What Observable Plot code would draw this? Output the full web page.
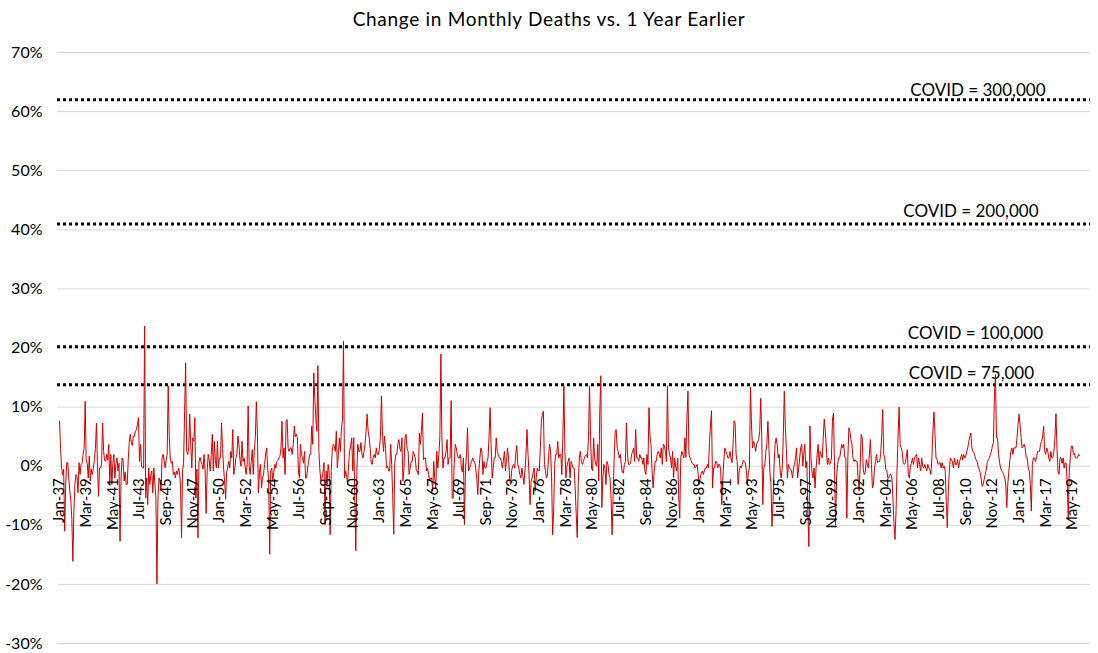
<!DOCTYPE html>
<html>
<head>
<meta charset="utf-8">
<script src="https://cdn.jsdelivr.net/npm/d3@7"></script>
<script src="https://cdn.jsdelivr.net/npm/@observablehq/plot@0.6"></script>
<style>
  html, body { margin: 0; padding: 0; background: #fff; }
  body { width: 1098px; height: 653px; overflow: hidden; font-family: Lato, "Open Sans", sans-serif; }
  #title { height: 38px; line-height: 38px; text-align: center; font-size: 19px; letter-spacing: 0.7px; color: #000; }
  #chart svg { display: block; }
</style>
</head>
<body>
<div id="title">Change in Monthly Deaths vs. 1 Year Earlier</div>
<div id="chart"></div>
<script>
// ---- data ----
const firstYear = 1937;

// Percent change in monthly deaths vs. same month one year earlier, Jan-1937 .. Dec-2019 (one row per year)
const monthlyChangePct = [
  7.6, 3, -0.3, -1.5, -0.5, -11, -3, 0.6, 0.6, -2, -4.2, -5.9,
  -9, -16.1, -7.6, -3.1, -1.4, -1.7, -4.5, 0.6, -1.4, 0.3, 0.5, 2,
  3, 11, 1.1, 0.5, -2, 1.7, -2.5, -0.5, -1.4, -0.3, 1.1, 3,
  7.3, 0, -5.1, -0.3, -0.3, 0.5, 7.3, 2.5, 1, 0.8, 2, 1,
  3.7, -3.1, 2, -3.1, 0.5, 2, -2, 0.5, 1.4, -0.8, 0.5, -12.7,
  -2, 1.4, 1, -2.5, -1, -3.1, -3.1, 1, 4, 5.4, 4, 3.5,
  5.1, 5, 5.9, 6.2, 7, 8.2, 0.8, 3.7, 0, -0.3, -0.3, 23.7,
  -5.4, -2, -6.5, -0.3, -3.1, -1.5, -0.8, -4.5, -0.3, -3, -5.4, -19.9,
  -5.4, -2, -2.5, -4.2, 1.4, 2, 1, -0.3, 1, 2, 13.6, 5,
  1.4, 0.5, 0.8, -1.4, -1, -2, -0.8, -1.4, -0.3, -1, -3.1, -12.1,
  -0.8, 0.5, 9.3, 17.5, 2.5, 2, 3.1, 8.8, 3.7, -0.3, 4.8, 4.2,
  8.2, -5.4, -0.5, -12.1, 0.8, 1.5, 0.8, 0.3, -0.5, 2, -0.8, -8,
  -0.8, 2, 1, -0.8, 2, 5.4, -0.8, 4.2, 1, -0.3, 4.2, -0.3,
  1.4, 1.4, 7.3, 3, -0.3, -2.5, -5.6, -1, -0.3, 0.8, -0.3, 2.5,
  1.4, 6.2, -1.4, -0.3, 1.4, 2, 5.1, 3.7, 1.1, 0, 4.2, 0.8,
  1.4, 0, -1.4, 0.3, 10.2, 0, -1.4, 0.8, 2.8, -1.4, 2.5, 5,
  10.9, 5.4, -4.5, -1, 0.3, -3.7, -2, -1.4, 0.3, 2, 3.1, -0.3,
  -2.5, -14.9, -0.8, -0.3, -2.5, -1, 0.3, -0.3, 0.8, 1, 1.4, 1.7,
  3, 7.6, 1.4, 3.1, -1.4, 7.6, 7.9, 3, 2.5, 3.1, 3.1, 2,
  3.7, 6.8, 5, 5.4, 4.8, -0.8, -2, 3.7, 2, 1.4, 0.5, 2.5,
  -2, -2, -0.3, 0.8, 2, 2, 6.8, 3.7, 15.8, 11.5, 8, 5.9,
  17, 2.5, -0.8, -2.5, -2, -1, 0.6, -9.9, -0.8, -3.1, 0.3, -1,
  -11.6, -0.8, 2.5, 3.7, 3.4, 2.5, 5.9, -0.3, 2, 4.8, 2.5, 6.5,
  8, 21.2, -2, -0.8, -1.5, -3.1, 0.3, 2.5, 3.5, 4.8, -0.8, 4.8,
  -5, -14.3, -0.8, 3.7, 2.5, 2.5, 4, 2, 1.4, 2.5, 3.7, 5.9,
  8.8, 6, 4.8, 3.1, 0.6, 0.3, 1.5, 2, 1.4, 3.1, 2, 2,
  2.8, 5, 11.9, 5.9, 2.5, 5.1, 3, -0.3, 0, -0.8, -0.8, 3.7,
  0.3, -5, -11.5, 0.5, 2, 2, 3.7, 4.5, 3, 2.5, 4.8, -2.5,
  -0.3, 4.8, 5.4, 3, 2.5, -1.4, -0.3, 0.8, 0.8, 2.5, 2, 1.4,
  -0.8, -0.8, -1.4, 5.6, 3.7, 6, 9, 1.1, 1.4, 1.4, -0.8, -0.3,
  -1.4, -2.5, -2, -2, -4.2, 0.8, -2, -3.7, 2.5, -0.3, 2, 4.8,
  19, 4.8, -0.3, 1.4, 1.4, 2.5, 4.5, 0.3, 1.4, 1.4, 11.1, -5.4,
  -5.4, 0.3, 3.7, 3.1, 2, 1.4, 1.4, 2, -0.3, -1, 1.4, -9.9,
  -0.3, 2, 6.5, -0.8, -0.3, 0.3, 0.8, 1.4, 0.8, 0.8, -0.3, -2,
  -4.8, -0.8, 1.4, 3.1, 2.5, -1.4, 0.8, -0.3, -0.3, 0.8, 1.4, 5,
  9.9, 3.7, -2, -0.3, 1.4, 1.4, 4.8, 2.5, 2, 1.4, 1.4, 0.8,
  -0.3, 1, 2.5, -0.8, 1, 3.1, 1.4, -2, -3.1, -0.8, 0, 0.3,
  -0.3, 2, 3.5, 0.3, -0.3, -1.4, -2, -0.3, -1.5, -3.1, -0.8, 2,
  6.2, 2, -1.4, -6.5, -2.5, -2, -1, -0.3, -4.2, -2, -0.3, -0.8,
  -0.8, 3.1, 7.5, 8.8, 9.3, 0.3, -0.8, -2, -1.5, 1.4, 3.7, 2.5,
  -2, -11.6, -7.6, 0.3, 2, 2, 4.2, 1.4, 2, 2, -1.4, 5,
  13.6, 2.5, -2, 0, 0.8, 1.4, -2, 0.8, 0.3, -0.3, -0.3, -3.7,
  -8, -12.1, -3.1, 1.4, 2.5, 0.8, 0.3, 0.8, 1.4, 1.8, 2, 1.4,
  4.8, 13.6, 5, -0.3, -0.8, 4.8, 1.4, 0.3, 0, 3.7, -2.5, 9,
  15.3, -7, -2, 0.3, -0.3, -3.1, 0.8, 0.3, -1.4, -2, -5.4, -11.6,
  -5, 1, 5.9, 6.2, 3, 2.5, 1.4, 2, 0.3, -1, -1.2, 0.3,
  0.8, 7.3, 2, 0.3, 0.3, 0.5, 2, 2.5, 3.1, 0.8, 6.2, 1.4,
  1.4, 0.8, 2, 1.4, 1.4, 0.3, 1.4, -0.8, -1.4, 2, 0.3, 9.9,
  5, 3.7, -0.8, -3.7, -1, 0.8, 0.8, 2, 2.5, 2, 1.4, 3.1,
  0.3, 3.7, 3.5, 2.5, 0.8, 13.6, 3.1, 2, 1.4, -0.3, 2.5, -2,
  1.4, 0, -0.8, 1.4, -5, -8.8, 1.4, 2.5, 2, 1.4, 4.8, 1.5,
  8, 12.7, 2, 1.4, 1, 0.5, 0.3, 0.3, -0.3, 0, 0.3, -1.4,
  -3.1, -2, -1.2, -0.8, -1.4, -0.8, -0.3, -0.3, 0.3, -0.3, 4, 6.8,
  9.4, -3.7, -0.3, -0.3, 0.8, 0.8, -0.3, 0.3, 0.3, -0.8, -6.5, -2,
  1, 3.1, 2.5, 2, 1.4, 1.4, 2.5, 1.4, 0.6, 3.7, 7.7, 7.3,
  2, 0.8, -3.1, -0.8, 0, -0.3, 0.3, 1, 0.8, 0.5, -0.8, -3.1,
  -1, -0.3, 13.4, 7, 3.1, 4.2, 3.7, 2.5, 3.7, 4.2, 4.5, 5.9,
  11.5, 5, -6.5, -0.3, 0.3, 2.5, 3.7, 7.6, 3, -1, -3.1, -10.2,
  -6, 0, 3.7, 4.8, 3.7, 1.4, 2, -1, -2, -0.3, 5, 12.7,
  6.8, 3, -2, 0.3, -0.3, -0.5, -0.8, -2, -0.3, 0.3, 1.5, 3.1,
  -2, -0.5, 1.4, 3.1, 3.7, 0, 2, 3.7, -0.3, 0.8, -8, -13.6,
  6.8, 1.4, -1, -2, -0.3, -3.7, -0.3, 2, 3.7, 0.3, 2.5, 2,
  1.4, 4.8, 8, 6, 3.1, 0.3, 1.4, 0.3, 0.5, 1.4, 8, 9,
  0, -9.9, -2, 0.3, 1.4, 1.4, 2.5, 3.7, 3.1, 3.7, 1.5, 1.4,
  -8.8, 1.4, 6.5, 5.9, 4.5, 3.7, 1.4, 0.8, 1.1, 0.8, 0.8, -2,
  -4.2, 0, 5.4, 4.8, -0.5, -1.4, -1, 1.1, 0.3, -0.3, 2, 4.5,
  0.3, -3.7, -3, -0.3, 0.8, 2, 0.6, 0.8, 0.8, 2, 5, 9.6,
  2, 1.4, -0.5, -0.8, -2, -2, -1.4, -1.4, -2, -5.4, -9.9, -12.4,
  -7.6, -0.3, 5, 10, 3.7, 3.1, 2.5, 0.5, 0.3, 0.6, 1.5, 2.8,
  -1.4, -2, 0, 0.5, 1.4, 0.3, 1.4, 1.7, 2, -0.3, 1.4, 0.3,
  -0.8, 1.4, 0, -0.3, 0.3, -0.3, -0.8, 0.3, -0.3, -0.5, -1.4, 1.5,
  6, 9.2, 5.4, 1.4, 1.1, 0.3, 0.5, 0.6, -0.3, 0.6, -0.3, 0,
  -0.8, -6, -10.4, -4.2, -0.8, 1.4, 1.1, 0.8, -0.3, 1.4, 0.3, 0.3,
  1.1, -0.3, 0.8, 1.4, 2, 1.1, 2, 1.4, 1.7, 2.5, 3.1, 4.2,
  5, 5.6, 3.1, 2.5, 2.2, 1.7, 1.1, 0.8, 0, -0.5, -1, -2,
  -3.4, -3.1, -2.2, -1.4, -0.6, 0.6, 1.1, 1.4, 2, 2.5, 3.4, 4,
  12, 15.5, 4.8, 4.8, 2, 0.6, -0.3, -0.8, -1, -1.4, -2, -3,
  -7, -3, -1, 1, 2.5, 3.1, 2, 3.1, 3.1, 3.1, 4.8, 7,
  8.8, 7, 4.8, 3.1, 3.4, 3.7, 3.1, 1.4, 1.4, -0.3, -0.8, -3.1,
  -7.6, 0.3, 1.4, 1.4, 0.8, 1.4, 2.5, 2.5, 2.5, 3.7, 4.2, 5,
  6.8, 2.5, 2, 3.1, 2.5, 1.4, 0.8, 2.5, 1.4, 1.4, 2.5, 4.8,
  8.9, 3, -0.8, -1.4, 1.4, 1.4, 0.5, 1.4, -0.3, 0.6, 0.5, -3,
  -8.8, -0.8, 1.4, 3.4, 3.4, 2, 2.2, 1.4, 1.4, 1.4, 2, 1.8
];

const monthAbbr = ["Jan","Feb","Mar","Apr","May","Jun","Jul","Aug","Sep","Oct","Nov","Dec"];

const tickLabels = [
  "Jan-37","Mar-39","May-41","Jul-43","Sep-45","Nov-47","Jan-50","Mar-52","May-54","Jul-56",
  "Sep-58","Nov-60","Jan-63","Mar-65","May-67","Jul-69","Sep-71","Nov-73","Jan-76","Mar-78",
  "May-80","Jul-82","Sep-84","Nov-86","Jan-89","Mar-91","May-93","Jul-95","Sep-97","Nov-99",
  "Jan-02","Mar-04","May-06","Jul-08","Sep-10","Nov-12","Jan-15","Mar-17","May-19"
];

const yTicks = [-30, -20, -10, 0, 10, 20, 30, 40, 50, 60, 70];

const covidLevels = [62, 41, 20.2, 13.8];
const covidLabels = ["COVID = 300,000", "COVID = 200,000", "COVID = 100,000", "COVID = 75,000"];

// ---- derived tables ----
const series = monthlyChangePct.map((v, i) => ({ i, v }));

function labelToIndex(lbl) {
  const [m, yy] = lbl.split("-");
  const yr = +yy < 30 ? 2000 + +yy : 1900 + +yy;
  return (yr - firstYear) * 12 + monthAbbr.indexOf(m);
}
const ticks = tickLabels.map(label => ({ i: labelToIndex(label), label }));
const covid = covidLevels.map((level, k) => ({ level, label: covidLabels[k] }));

// label nudges (screen px) for the annotation texts
const labelDx = [5, -2, 2.5, -1.5];
const labelDy = [-9, -12, -13.5, -11];

const chart = Plot.plot({
  width: 1098,
  height: 615,
  marginLeft: 57,
  marginRight: 8,
  marginTop: 14,
  marginBottom: 10,
  style: { fontFamily: "Lato, 'Open Sans', sans-serif", fontSize: "15px", color: "#000", background: "#fff" },
  x: { domain: [-2, 1005.7], axis: null },
  y: { domain: [-30, 70], axis: null },
  marks: [
    Plot.ruleY(yTicks, { stroke: "#d9d9d9", strokeWidth: 1 }),
    Plot.axisY(yTicks, { tickSize: 0, tickPadding: 15, tickFormat: d => d + "%", label: null, fontSize: 16, fill: "#000" }),
    Plot.ruleY(covidLevels, { stroke: "#000", strokeWidth: 3, strokeDasharray: "3,3" }),
    Plot.line(series, { x: "i", y: "v", stroke: "#d10000", strokeWidth: 1 }),
    Plot.text(ticks, { x: "i", y: () => 0, text: "label", rotate: -90, textAnchor: "end", dy: 12, fontSize: 15, fill: "#000" }),
    ...covid.map((c, k) => Plot.text([c], {
      x: () => 891, y: "level", text: "label", dx: labelDx[k], dy: labelDy[k], fontSize: 17, fill: "#000"
    }))
  ]
});
document.getElementById("chart").appendChild(chart);
</script>
</body>
</html>
